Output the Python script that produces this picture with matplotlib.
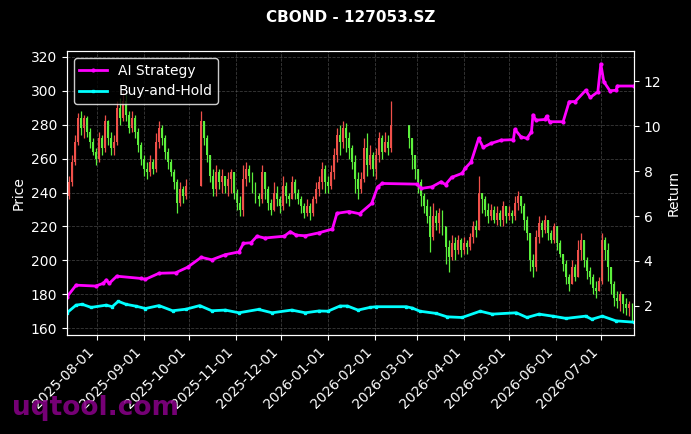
import matplotlib
matplotlib.use('Agg')
import matplotlib.pyplot as plt
import matplotlib.dates as mdates
import pandas as pd
import numpy as np

# candles, one every 2 days (holidays skipped)
first_open = 238
closes = [246, 258, 270, 284, 278, 284, 276, 270, 264, 260,
          272, 266, 282, 272, 266, 270, 290, 284, 294, 286, 278, 284, 276, 268, 260,
          254, 252, 258, 254, 270, 278, 272, 264, 258, 252, 246, 234, 242, 238, 244,
          282, 272, 262, 250, 242, 252, 246, 250, 244, 248, 252, 240,
          234, 230, 248, 254, 250, 244, 238, 236, 252, 242, 234, 230, 240, 236, 232,
          244, 238, 236, 246, 240, 236, 232, 228, 232, 228, 236, 242, 246, 254, 246,
          244, 252, 262, 274, 270, 278, 272, 266, 258, 248, 242, 248, 266, 256, 262, 254,
          262, 272, 264, 270, 266, 280, 272, 262, 254,
          246, 238, 232, 226, 214, 226, 222, 228, 220, 208, 202, 210, 206, 212, 206,
          210, 208, 214, 220, 218, 240, 236, 230, 226, 230, 224, 228, 224, 232, 226,
          228, 226, 234, 238, 232, 224, 216, 200, 196, 214, 222, 218, 224, 216, 212, 220,
          210, 204, 198, 190, 186, 196, 190, 206, 212, 200, 194, 190, 184, 182, 188,
          212, 206, 196, 186, 178, 176, 180, 174, 172, 174, 168]
highs = [250, 262, 274, 287, 288, 286, 285, 278, 272, 266,
         276, 274, 286, 283, 276, 274, 294, 296, 300, 298, 288, 288, 286, 278, 270,
         262, 258, 262, 260, 275, 282, 280, 274, 266, 260, 254, 248, 246, 244, 248,
         288, 280, 274, 262, 254, 256, 254, 254, 250, 252, 254, 250,
         242, 238, 256, 258, 256, 252, 246, 240, 256, 252, 244, 236, 246, 244, 238,
         250, 246, 240, 250, 248, 242, 238, 234, 236, 234, 238, 246, 250, 258, 256,
         250, 256, 266, 278, 280, 282, 281, 276, 268, 262, 252, 252, 272, 275, 268, 264,
         266, 276, 274, 276, 274, 294, 276, 272, 260,
         250, 248, 240, 236, 232, 234, 230, 231, 230, 219, 212, 215, 214, 215, 213,
         214, 212, 216, 223, 224, 250, 240, 238, 234, 233, 232, 232, 230, 235, 232,
         232, 230, 238, 241, 238, 234, 226, 214, 204, 218, 226, 224, 227, 224, 218, 222,
         216, 212, 204, 200, 192, 200, 198, 212, 216, 210, 202, 196, 192, 188, 190,
         216, 214, 210, 192, 188, 182, 182, 180, 178, 176, 175]
lows = [236, 244, 256, 268, 274, 272, 273, 266, 262, 256,
        258, 262, 264, 268, 262, 262, 268, 280, 282, 282, 275, 276, 272, 264, 256,
        250, 248, 250, 251, 252, 266, 268, 260, 254, 250, 242, 228, 232, 234, 236,
        244, 268, 258, 246, 238, 238, 242, 240, 240, 238, 240, 236,
        230, 226, 226, 244, 246, 240, 234, 232, 234, 236, 230, 227, 229, 232, 228,
        230, 234, 232, 236, 236, 233, 228, 225, 226, 224, 226, 234, 238, 242, 240,
        240, 242, 248, 258, 262, 266, 264, 260, 254, 240, 236, 240, 246, 250, 254, 250,
        248, 258, 260, 266, 262, 264, 266, 254, 248,
        240, 232, 228, 222, 205, 212, 218, 216, 215, 198, 193, 200, 200, 204, 202,
        204, 204, 206, 210, 214, 222, 228, 226, 222, 224, 222, 221, 220, 220, 222,
        224, 222, 224, 230, 228, 218, 212, 194, 190, 194, 210, 214, 216, 212, 210, 210,
        206, 202, 194, 186, 182, 188, 188, 196, 200, 196, 189, 186, 180, 178, 182,
        186, 200, 188, 180, 173, 172, 170, 169, 168, 167, 164]

holidays = [('2025-10-01', '2025-10-08'), ('2026-02-13', '2026-02-23')]
all_days = pd.date_range('2025-07-13', '2026-07-22', freq='2D')
candle_dates = [d for d in all_days
                if not any(pd.Timestamp(a) <= d <= pd.Timestamp(b) for a, b in holidays)]

# strategy curves
ai_dates = ['2025-07-12', '2025-07-18', '2025-07-31', '2025-08-05', '2025-08-07', '2025-08-09',
            '2025-08-14', '2025-08-30', '2025-09-02', '2025-09-11', '2025-09-22', '2025-09-30',
            '2025-10-09', '2025-10-16', '2025-10-25', '2025-11-03', '2025-11-06', '2025-11-11',
            '2025-11-15', '2025-11-20', '2025-12-03', '2025-12-07', '2025-12-11', '2025-12-17',
            '2025-12-26', '2026-01-04', '2026-01-07', '2026-01-15', '2026-01-22', '2026-01-30',
            '2026-02-03', '2026-02-06', '2026-03-01', '2026-03-04', '2026-03-11', '2026-03-17',
            '2026-03-20', '2026-03-24', '2026-03-31', '2026-04-02', '2026-04-06', '2026-04-11',
            '2026-04-14', '2026-04-19', '2026-04-26', '2026-05-04', '2026-05-05', '2026-05-09',
            '2026-05-13', '2026-05-16', '2026-05-17', '2026-05-19', '2026-05-25', '2026-05-26',
            '2026-05-28', '2026-06-06', '2026-06-10', '2026-06-14', '2026-06-21', '2026-06-24',
            '2026-06-29', '2026-07-01', '2026-07-03', '2026-07-07', '2026-07-11', '2026-07-12',
            '2026-07-23']
ai_ret = [2.40, 2.92, 2.88, 3.00, 3.15, 3.00,
          3.32, 3.22, 3.18, 3.45, 3.47, 3.72,
          4.16, 4.05, 4.28, 4.40, 4.78, 4.81,
          5.10, 5.02, 5.10, 5.30, 5.15, 5.12,
          5.25, 5.42, 6.12, 6.20, 6.10, 6.56,
          7.30, 7.45, 7.42, 7.23, 7.30, 7.52,
          7.40, 7.72, 7.90, 8.12, 8.41, 9.46,
          9.06, 9.23, 9.38, 9.40, 9.86, 9.53,
          9.46, 9.75, 10.50, 10.27, 10.30, 10.45,
          10.20, 10.20, 11.09, 11.10, 11.60, 11.28,
          11.53, 12.77, 11.98, 11.58, 11.60, 11.79,
          11.79]

bh_dates = ['2025-07-12', '2025-07-18', '2025-07-22', '2025-07-28', '2025-08-07', '2025-08-11',
            '2025-08-15', '2025-08-20', '2025-08-27', '2025-09-02', '2025-09-11', '2025-09-20',
            '2025-09-29', '2025-10-08', '2025-10-16', '2025-10-25', '2025-11-03', '2025-11-16',
            '2025-11-25', '2025-12-08', '2025-12-17', '2025-12-26', '2026-01-01', '2026-01-09',
            '2026-01-14', '2026-01-21', '2026-01-29', '2026-02-02', '2026-02-22', '2026-02-26',
            '2026-03-03', '2026-03-14', '2026-03-21', '2026-03-31', '2026-04-12', '2026-04-20',
            '2026-05-06', '2026-05-13', '2026-05-21', '2026-05-30', '2026-06-08', '2026-06-21',
            '2026-06-25', '2026-07-02', '2026-07-11', '2026-07-23']
bh_ret = [1.69, 2.03, 2.07, 1.93, 2.03, 1.96,
          2.20, 2.07, 1.98, 1.88, 2.01, 1.78,
          1.85, 2.01, 1.78, 1.81, 1.69, 1.84,
          1.69, 1.81, 1.69, 1.77, 1.76, 1.99,
          1.99, 1.81, 1.93, 1.96, 1.96, 1.90,
          1.76, 1.66, 1.51, 1.48, 1.76, 1.63,
          1.69, 1.48, 1.63, 1.54, 1.44, 1.54,
          1.40, 1.54, 1.33, 1.27]

plt.style.use('dark_background')
fig = plt.figure(figsize=(6.91, 4.34), dpi=100)
ax = fig.add_axes([67 / 691, 1 - 335 / 434, 567 / 691, 284 / 434])
ax.set_facecolor('black')

n = min(len(candle_dates), len(closes), len(highs), len(lows))
opens = [first_open] + closes[:n - 1]
up_col, dn_col = '#f0504a', '#5cf03c'
for i in range(n):
    o, c = opens[i], closes[i]
    col = up_col if c >= o else dn_col
    hi = max(highs[i], o, c)
    lo = min(lows[i], o, c)
    d = candle_dates[i]
    ax.vlines(d, lo, hi, color=col, linewidth=0.9)
    ax.bar(d, abs(c - o) if c != o else 0.5, bottom=min(o, c), width=1.3, color=col, linewidth=0)

ax.set_ylim(156, 323.5)
ax.set_xlim(pd.Timestamp('2025-07-12'), pd.Timestamp('2026-07-23'))
ax.set_ylabel('Price', color='white', fontsize=10)
ax.grid(True, linestyle='--', color='gray', alpha=0.45, linewidth=0.6)
ax.xaxis.set_major_locator(mdates.MonthLocator())
ax.xaxis.set_major_formatter(mdates.DateFormatter('%Y-%m-%d'))
plt.setp(ax.get_xticklabels(), rotation=45, ha='right', fontsize=10)
ax.tick_params(axis='y', labelsize=10)

ax2 = ax.twinx()
ax2.plot(pd.to_datetime(ai_dates), ai_ret, color='magenta', linewidth=2, marker='o',
         markersize=2, label='AI Strategy')
ax2.plot(pd.to_datetime(bh_dates), bh_ret, color='cyan', linewidth=2, marker='s',
         markersize=2, label='Buy-and-Hold')
ax2.set_ylim(0.70, 13.35)
ax2.set_ylabel('Return', color='white', fontsize=10)
ax2.tick_params(axis='y', labelsize=10)
for a in (ax, ax2):
    for s in a.spines.values():
        s.set_color('white')

leg = ax2.legend(loc='upper left', fontsize=10, facecolor='black', edgecolor='white')
for t in leg.get_texts():
    t.set_color('white')

fig.text(350.5 / 691, 1 - 18 / 434, 'CBOND - 127053.SZ', ha='center', va='center',
         fontsize=11, fontweight='bold', color='white')
fig.text(12 / 691, 1 - 408 / 434, 'uqtool.com', ha='left', va='center',
         fontsize=19, fontweight='bold', color='#8b008b', alpha=0.85)

fig.savefig('out.png', dpi=100, facecolor='black')
